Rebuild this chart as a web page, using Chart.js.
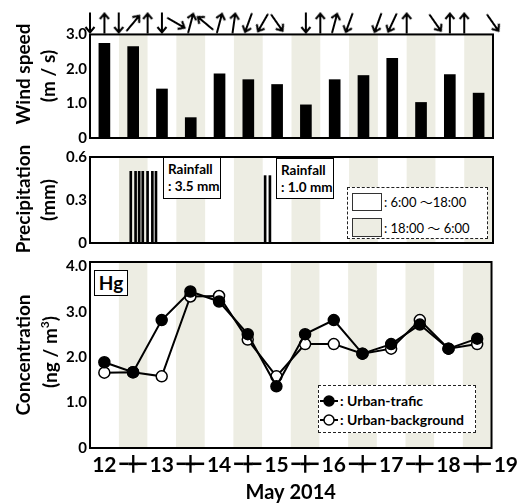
<!DOCTYPE html>
<html>
<head>
<meta charset="utf-8">
<script src="https://cdn.jsdelivr.net/npm/chart.js@4.4.1/dist/chart.umd.min.js"></script>
<style>
  body { margin: 0; background: #fff; }
  #wrap { position: relative; width: 522px; height: 503px; overflow: hidden; font-family: Lato, "Noto Sans CJK JP", sans-serif; color: #000; }
  .panel { position: absolute; left: 0; width: 522px; }
  .ytitle { position: absolute; transform: translate(-50%, -50%) rotate(-90deg); white-space: nowrap; font-weight: bold; font-size: 19px; }
  .box { position: absolute; background: #fff; border: 1.5px solid #000; box-sizing: border-box; font-weight: bold; white-space: nowrap; }
  .dash { position: absolute; background: #fff; border: 1.5px dashed #222; box-sizing: border-box; }
  .row { position: absolute; white-space: nowrap; }
</style>
</head>
<body>
<div id="wrap">
  <div class="panel" style="top:0;height:150px"><canvas id="windChart" width="522" height="150"></canvas></div>
  <div class="panel" style="top:145px;height:110px"><canvas id="rainChart" width="522" height="110"></canvas></div>
  <div class="panel" style="top:250px;height:253px"><canvas id="hgChart" width="522" height="253"></canvas></div>

  <!-- axis titles -->
  <div class="ytitle" style="left:22px;top:74px">Wind speed</div>
  <div class="ytitle" style="left:47px;top:76px">(m / s)</div>
  <div class="ytitle" style="left:22px;top:199px">Precipitation</div>
  <div class="ytitle" style="left:47px;top:200px">(mm)</div>
  <div class="ytitle" style="left:22px;top:355px">Concentration</div>
  <div class="ytitle" style="left:49px;top:352px">(ng / m<sup style="font-size:12px">3</sup>)</div>

  <!-- rainfall notes -->
  <div class="box" style="left:163px;top:157px;width:58px;height:42px;font-size:13.5px;line-height:17px;padding:3px 0 0 4px">Rainfall<br>: 3.5 mm</div>
  <div class="box" style="left:276px;top:158px;width:58px;height:41px;font-size:13.5px;line-height:17px;padding:3px 0 0 4px">Rainfall<br>: 1.0 mm</div>

  <!-- day / night legend -->
  <div class="dash" style="left:347px;top:187px;width:141px;height:52px"></div>
  <div style="position:absolute;left:352px;top:193px;width:30px;height:18px;background:#fff;border:1px solid #333;box-sizing:border-box"></div>
  <div style="position:absolute;left:352px;top:218px;width:30px;height:19px;background:#ededE3;border:1px solid #333;box-sizing:border-box"></div>
  <div class="row" style="left:384px;top:194px;font-size:13px;line-height:16px">: 6:00 〜18:00</div>
  <div class="row" style="left:384px;top:220px;font-size:13px;line-height:16px">: 18:00 〜 6:00</div>

  <!-- Hg label -->
  <div class="box" style="left:94px;top:270px;width:34px;height:26px;font-size:19px;line-height:23px;text-align:center">Hg</div>

  <!-- series legend -->
  <div class="dash" style="left:318px;top:385px;width:158px;height:48px"></div>
  <svg style="position:absolute;left:319px;top:394px" width="20" height="34">
    <line x1="1" y1="7" x2="19" y2="7" stroke="#000" stroke-width="2"/>
    <circle cx="10" cy="7" r="5" fill="#000" stroke="#000" stroke-width="1.5"/>
    <line x1="1" y1="26" x2="19" y2="26" stroke="#000" stroke-width="2"/>
    <circle cx="10" cy="26" r="5" fill="#fff" stroke="#000" stroke-width="1.5"/>
  </svg>
  <div class="row" style="left:340px;top:392px;font-size:14px;line-height:18px;font-weight:bold">: Urban-trafic</div>
  <div class="row" style="left:340px;top:411px;font-size:14px;line-height:18px;font-weight:bold">: Urban-background</div>
</div>

<script>
// ---- data (x in hours since 12 May 00:00) ----
const halfDayHours = [12, 24, 36, 48, 60, 72, 84, 96, 108, 120, 132, 144, 156, 168];
const windSpeed    = [2.74, 2.65, 1.42, 0.59, 1.86, 1.69, 1.55, 0.96, 1.69, 1.81, 2.31, 1.03, 1.84, 1.30];

const windDirHours = [6, 12, 18, 24, 30, 36, 42, 48, 54, 60, 66, 72, 78, 84, 96, 102, 108, 114, 126, 132, 138, 150, 156, 162, 174];
const windDirAngle = [180, 0, 180, 40, 0, 180, 120, 15, 310, 15, 8, 200, 210, 145, 180, 0, 15, 200, 200, 205, 0, 145, 0, 0, 145];

const rainHours = [23, 25, 26.5, 28, 30, 32, 33.5, 79, 81];
const rainMm    = [0.5, 0.5, 0.5, 0.5, 0.5, 0.5, 0.5, 0.47, 0.47];

const hgTrafic     = [1.89, 1.67, 2.82, 3.45, 3.23, 2.51, 1.36, 2.51, 2.82, 2.08, 2.29, 2.72, 2.19, 2.41];
const hgBackground = [1.66, 1.67, 1.58, 3.34, 3.35, 2.39, 1.58, 2.29, 2.29, 2.08, 2.19, 2.82, 2.19, 2.29];

const nightStart = [18, 42, 66, 90, 114, 138, 162];   // 18:00 -> 6:00
const windTicks = [0, 1, 2, 3];
const rainTicks = [0, 0.3, 0.6];
const hgTicks   = [0, 1, 2, 3, 4];
const dayTickHours = [12, 24, 36, 48, 60, 72, 84, 96, 108, 120, 132, 144, 156, 168, 180];
const dayLabels    = ['12', '', '13', '', '14', '', '15', '', '16', '', '17', '', '18', '', '19'];

// ---- styling ----
const BAND = '#ededE3';
const X_MIN = 6, X_MAX = 174;
const ARROW_ROW = 3.33;
const tickFont = { family: 'Lato', size: 15, weight: 'bold' };
const fmt = v => v === 0 ? '0' : v.toFixed(1);

function nightBand(top) {
    const pts = [];
    nightStart.forEach(s => { pts.push({ x: s, y: top }); pts.push({ x: s + 12, y: 0 }); });
    return {
        type: 'line', data: pts, stepped: true, fill: 'origin',
        backgroundColor: BAND, borderColor: 'rgba(0,0,0,0)', borderWidth: 0,
        pointRadius: 0, order: 10
    };
}

function yAxis(max, tickList) {
    return {
        min: 0, max: max,
        afterBuildTicks: s => { s.ticks = tickList.map(v => ({ value: v })); },
        grid: { display: false, drawTicks: false },
        border: { display: false },
        ticks: { font: tickFont, color: '#000', padding: 3, callback: fmt },
        afterFit: s => { s.width = 90; }
    };
}

const hiddenX = { type: 'linear', min: X_MIN, max: X_MAX, offset: false, display: false };

const framePlugin = {
    id: 'frame',
    afterDatasetsDraw(chart, args, opts) {
        const { ctx, chartArea: a, scales } = chart;
        const top = opts.top != null ? scales.y.getPixelForValue(opts.top) : a.top;
        ctx.save();
        ctx.strokeStyle = '#000';
        ctx.lineWidth = 2;
        ctx.strokeRect(a.left, top, a.right - a.left, a.bottom - top);
        ctx.restore();
    }
};

function makeArrow() {
    const c = document.createElement('canvas');
    c.width = 12; c.height = 22;
    const g = c.getContext('2d');
    g.strokeStyle = '#000'; g.lineWidth = 2;
    g.beginPath(); g.moveTo(6, 21.5); g.lineTo(6, 2); g.stroke();
    g.beginPath(); g.moveTo(1.5, 7); g.lineTo(6, 1.5); g.lineTo(10.5, 7); g.stroke();
    return c;
}

const common = {
    responsive: false,
    animation: false,
    events: [],
    plugins: { legend: { display: false }, tooltip: { enabled: false } }
};

// ── 1. WIND SPEED + DIRECTION ─────────────────────────
new Chart(document.getElementById('windChart'), {
    type: 'bar',
    data: {
        datasets: [
            {
                type: 'line', showLine: false, clip: false,
                data: windDirHours.map(h => ({ x: h, y: ARROW_ROW })),
                pointStyle: makeArrow(), pointRotation: windDirAngle, pointRadius: 8, order: 0
            },
            {
                data: halfDayHours.map((h, i) => ({ x: h, y: windSpeed[i] })),
                backgroundColor: '#000', barThickness: 11, order: 1
            },
            nightBand(3)
        ]
    },
    options: Object.assign({}, common, {
        layout: { padding: { top: 11, bottom: 7, left: 0, right: 29 } },
        scales: { x: hiddenX, y: yAxis(3.65, windTicks) },
        plugins: Object.assign({}, common.plugins, { frame: { top: 3 } })
    }),
    plugins: [framePlugin]
});

// ── 2. PRECIPITATION ──────────────────────────────────
new Chart(document.getElementById('rainChart'), {
    type: 'bar',
    data: {
        datasets: [
            {
                data: rainHours.map((h, i) => ({ x: h, y: rainMm[i] })),
                backgroundColor: '#000', barThickness: 2, order: 1
            },
            nightBand(0.6)
        ]
    },
    options: Object.assign({}, common, {
        layout: { padding: { top: 7, bottom: 9, left: 0, right: 29 } },
        scales: { x: hiddenX, y: yAxis(0.6, rainTicks) }
    }),
    plugins: [framePlugin]
});

// ── 3. Hg CONCENTRATION ───────────────────────────────
new Chart(document.getElementById('hgChart'), {
    type: 'line',
    data: {
        datasets: [
            {
                label: 'Urban-trafic',
                data: halfDayHours.map((h, i) => ({ x: h, y: hgTrafic[i] })),
                borderColor: '#000', borderWidth: 2, backgroundColor: '#000',
                pointRadius: 5.5, pointBorderWidth: 1.5, pointBorderColor: '#000', pointBackgroundColor: '#000',
                order: 0
            },
            {
                label: 'Urban-background',
                data: halfDayHours.map((h, i) => ({ x: h, y: hgBackground[i] })),
                borderColor: '#000', borderWidth: 2, backgroundColor: '#fff',
                pointRadius: 5.5, pointBorderWidth: 1.5, pointBorderColor: '#000', pointBackgroundColor: '#fff',
                order: 1
            },
            nightBand(4.1)
        ]
    },
    options: Object.assign({}, common, {
        layout: { padding: { top: 6, bottom: 0, left: 0, right: 29 } },
        scales: {
            x: {
                type: 'linear', min: X_MIN, max: X_MAX, offset: false,
                afterBuildTicks: s => { s.ticks = dayTickHours.map(v => ({ value: v })); },
                grid: { display: false, drawTicks: false },
                border: { display: false },
                ticks: {
                    autoSkip: false, maxRotation: 0, padding: 5, color: '#000',
                    font: c => (c.index % 2 === 1)
                        ? { family: 'DejaVu Sans', size: 15, weight: 'bold', lineHeight: 1.68 }
                        : { family: 'Lato', size: 21, weight: 'bold', lineHeight: 1.2 },
                    callback: (v, i) => (i % 2 === 1) ? '━╋━' : dayLabels[i]
                },
                title: { display: true, text: 'May 2014', color: '#000', padding: 0,
                         font: { family: 'Lato', size: 20, weight: 'bold', lineHeight: 1 } },
                afterFit: s => { s.height = 55; }
            },
            y: yAxis(4.1, hgTicks)
        }
    }),
    plugins: [framePlugin]
});
</script>
</body>
</html>
